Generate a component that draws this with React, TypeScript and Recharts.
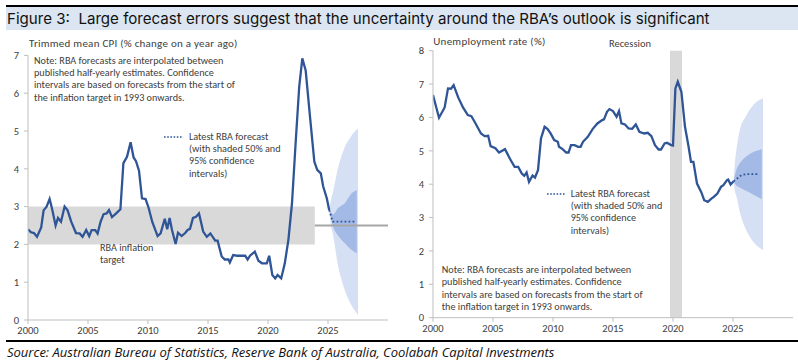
import React from 'react';
import { ComposedChart, Line, Area, XAxis, YAxis, ReferenceArea, ReferenceLine } from 'recharts';

// x = decimal year, y = % value
const cpiActual: [number, number][] = [
    [2000.0, 2.4], [2000.25, 2.32], [2000.5, 2.3], [2000.75, 2.2], [2001.1, 2.45], [2001.3, 2.9],
    [2001.55, 3.0], [2001.8, 3.2], [2002.0, 2.95], [2002.3, 2.5], [2002.5, 2.7], [2002.75, 2.6],
    [2003.05, 3.0], [2003.3, 2.9], [2003.6, 2.6], [2004.0, 2.3], [2004.3, 2.29], [2004.55, 2.2],
    [2004.85, 2.38], [2005.1, 2.22], [2005.3, 2.38], [2005.6, 2.38], [2005.8, 2.29], [2006.05, 2.6],
    [2006.3, 2.8], [2006.55, 2.82], [2006.75, 2.91], [2007.0, 2.72], [2007.35, 2.82], [2007.7, 2.93],
    [2007.95, 4.15], [2008.25, 4.32], [2008.55, 4.7], [2008.8, 4.3], [2009.0, 4.2], [2009.25, 3.95],
    [2009.5, 3.22], [2009.8, 3.2], [2010.05, 2.97], [2010.35, 2.6], [2010.8, 2.22], [2011.05, 2.29],
    [2011.4, 2.68], [2011.6, 2.4], [2011.8, 2.7], [2012.0, 2.38], [2012.3, 2.01], [2012.5, 2.31],
    [2012.8, 2.22], [2013.1, 2.3], [2013.3, 2.38], [2013.5, 2.41], [2013.75, 2.7], [2014.0, 2.73],
    [2014.25, 2.82], [2014.6, 2.34], [2014.9, 2.2], [2015.2, 2.29], [2015.6, 2.1], [2015.8, 2.1],
    [2016.14, 1.68], [2016.4, 1.6], [2016.7, 1.6], [2016.82, 1.52], [2017.1, 1.72], [2017.4, 1.7],
    [2017.8, 1.7], [2018.1, 1.7], [2018.3, 1.6], [2018.5, 1.7], [2018.9, 1.81], [2019.2, 1.57],
    [2019.5, 1.5], [2019.9, 1.5], [2020.1, 1.7], [2020.36, 1.19], [2020.6, 1.1], [2020.8, 1.19],
    [2021.1, 1.1], [2021.4, 1.5], [2021.7, 2.12], [2022.0, 3.09], [2022.3, 4.67], [2022.6, 6.17],
    [2022.86, 6.92], [2023.14, 6.6], [2023.5, 5.38], [2023.86, 4.19], [2024.1, 3.97], [2024.4, 3.88],
    [2024.6, 3.53], [2024.9, 3.22], [2025.1, 2.91],
];
const cpiForecast: [number, number][] = [[2025.1, 2.91], [2025.4, 2.6], [2027.25, 2.6]];
// [x, low, high]
const cpiBand95: [number, number, number][] = [
    [2025.1, 2.91, 2.91], [2025.2, 2.6, 3.1], [2025.45, 2.2, 3.44], [2025.8, 1.5, 3.97],
    [2026.3, 0.88, 4.5], [2026.9, 0.42, 4.85], [2027.5, 0.13, 5.07],
];
const cpiBand50: [number, number, number][] = [
    [2025.1, 2.91, 2.91], [2025.45, 2.45, 2.8], [2025.8, 2.25, 2.95], [2026.4, 2.03, 3.09],
    [2026.97, 1.85, 3.35], [2027.4, 1.76, 3.44],
];
const targetBand = { from: 2000, to: 2023.9, low: 2, high: 3, mid: 2.5 };

const unempActual: [number, number][] = [
    [2000.0, 6.67], [2000.5, 5.99], [2000.97, 6.3], [2001.25, 6.87], [2001.5, 6.86], [2001.72, 6.97],
    [2002.1, 6.6], [2002.5, 6.3], [2002.9, 6.07], [2003.2, 6.04], [2003.5, 5.85], [2004.0, 5.52],
    [2004.3, 5.44], [2004.6, 5.45], [2004.8, 5.14], [2005.2, 5.08], [2005.5, 4.95], [2006.0, 5.05],
    [2006.4, 4.77], [2006.8, 4.52], [2007.1, 4.52], [2007.4, 4.32], [2007.6, 4.25], [2007.8, 4.35],
    [2008.0, 4.07], [2008.3, 4.26], [2008.5, 4.2], [2008.75, 4.42], [2009.0, 5.37], [2009.3, 5.72],
    [2009.55, 5.65], [2009.8, 5.52], [2010.1, 5.32], [2010.4, 5.27], [2010.5, 5.12], [2010.8, 5.05],
    [2011.1, 4.95], [2011.3, 4.95], [2011.5, 5.17], [2011.8, 5.17], [2012.1, 5.12], [2012.3, 5.12],
    [2012.5, 5.27], [2012.9, 5.42], [2013.3, 5.65], [2013.7, 5.82], [2014.1, 5.92], [2014.25, 5.94],
    [2014.5, 6.17], [2014.7, 6.25], [2015.0, 6.19], [2015.3, 6.02], [2015.5, 6.19], [2015.7, 5.82],
    [2016.0, 5.79], [2016.3, 5.67], [2016.6, 5.66], [2016.9, 5.79], [2017.2, 5.57], [2017.6, 5.52],
    [2017.9, 5.54], [2018.2, 5.44], [2018.5, 5.17], [2018.8, 5.04], [2019.0, 5.04], [2019.3, 5.22],
    [2019.5, 5.24], [2019.8, 5.18], [2020.0, 5.16], [2020.2, 6.87], [2020.4, 7.07], [2020.7, 6.77],
    [2021.0, 5.72], [2021.3, 5.12], [2021.5, 4.67], [2021.7, 4.67], [2022.0, 4.02], [2022.35, 3.77],
    [2022.6, 3.52], [2022.9, 3.47], [2023.2, 3.57], [2023.4, 3.62], [2023.7, 3.72], [2024.0, 3.92],
    [2024.2, 3.97], [2024.5, 4.12], [2024.6, 4.14], [2024.8, 3.99], [2025.05, 4.09],
];
const unempForecast: [number, number][] = [[2025.05, 4.09], [2025.7, 4.27], [2026.1, 4.3], [2027.15, 4.3]];
const unempBand95: [number, number, number][] = [
    [2025.05, 4.09, 4.09], [2025.15, 3.8, 4.6], [2025.3, 3.62, 5.07], [2025.55, 3.2, 5.6],
    [2026.1, 2.63, 6.05], [2026.8, 2.23, 6.42], [2027.5, 2.03, 6.57],
];
const unempBand50: [number, number, number][] = [
    [2025.05, 4.09, 4.09], [2025.3, 3.95, 4.45], [2025.55, 3.9, 4.62], [2026.25, 3.77, 4.87],
    [2027.4, 3.55, 5.05],
];
const recession = { from: 2019.75, to: 2020.75 };

const yearTicks = [2000, 2005, 2010, 2015, 2020, 2025];
const cpiTicks = [0, 1, 2, 3, 4, 5, 6, 7];
const unempTicks = [0, 1, 2, 3, 4, 5, 6, 7, 8];

const BLUE = '#2f5597';
const BAND95 = '#d6e0f4';
const BAND50 = '#a4bae6';
const AXIS = '#bfbfbf';
const TEXT = '#404040';
const FONT = "Carlito, Lato, 'Liberation Sans', sans-serif";

const pts = (rows: [number, number][]) => rows.map(([x, y]) => ({ x, y }));
const band = (rows: [number, number, number][]) => rows.map(([x, lo, hi]) => ({ x, r: [lo, hi] }));

const tickStyle = { fontSize: 10.5, fill: TEXT, fontFamily: FONT };

function Note(props: { left: number; top: number; lines: string[]; lh?: number; size?: number; spacing?: number }) {
    return (
        <div style={{ position: 'absolute', left: props.left, top: props.top, fontFamily: FONT, fontSize: props.size || 10.2,
            letterSpacing: props.spacing || 0, lineHeight: (props.lh || 12.3) + 'px', color: TEXT, whiteSpace: 'nowrap' }}>
            {props.lines.map((l, i) => <div key={i}>{l}</div>)}
        </div>
    );
}

function Dots(props: { left: number; top: number }) {
    return (
        <svg style={{ position: 'absolute', left: props.left, top: props.top - 2 }} width={18} height={4}>
            <line x1={0} y1={2} x2={18} y2={2} stroke={BLUE} strokeWidth={1.6} strokeDasharray="1.6 1.6" />
        </svg>
    );
}

const legendLines = ['Latest RBA forecast', '(with shaded 50% and', '95% confidence', 'intervals)'];
const noteLines = ['Note: RBA forecasts are interpolated between', 'published half-yearly estimates. Confidence',
    'intervals are based on forecasts from the start of', 'the inflation target in 1993 onwards.'];

function CpiChart() {
    return (
        <div style={{ position: 'absolute', left: 0, top: 0 }}>
            <ComposedChart width={398} height={340} margin={{ top: 55.4, right: 10, bottom: 0, left: 0 }}>
                <XAxis type="number" dataKey="x" domain={[2000, 2030]} ticks={yearTicks} allowDataOverflow
                    tick={tickStyle} tickSize={4} tickMargin={3} height={20} stroke={AXIS} />
                <YAxis type="number" domain={[0, 7]} ticks={cpiTicks} allowDataOverflow tick={tickStyle}
                    tickSize={4} tickMargin={5} width={28} stroke={AXIS} />
                <ReferenceArea x1={targetBand.from} x2={targetBand.to} y1={targetBand.low} y2={targetBand.high}
                    fill="#d9d9d9" fillOpacity={1} stroke="none" />
                <ReferenceLine segment={[{ x: targetBand.to, y: targetBand.mid }, { x: 2030, y: targetBand.mid }]}
                    stroke="#a6a6a6" strokeWidth={1.8} />
                <Area data={band(cpiBand95)} dataKey="r" type="monotone" fill={BAND95} fillOpacity={1}
                    stroke="none" isAnimationActive={false} />
                <Area data={band(cpiBand50)} dataKey="r" type="monotone" fill={BAND50} fillOpacity={1}
                    stroke="none" isAnimationActive={false} />
                <Line data={pts(cpiActual)} dataKey="y" stroke={BLUE} strokeWidth={2.3} dot={false}
                    isAnimationActive={false} />
                <Line data={pts(cpiForecast)} dataKey="y" stroke={BLUE} strokeWidth={1.8} strokeDasharray="1.8 2.2"
                    dot={false} isAnimationActive={false} />
            </ComposedChart>
            <Note left={29} top={38} lines={['Trimmed mean CPI (% change on a year ago)']} lh={12} size={11} spacing={0.25} />
            <Note left={34} top={54.8} lines={noteLines} />
            <Dots left={164} top={137} />
            <Note left={189} top={130.8} lines={legendLines} />
            <Note left={100} top={241.8} lines={['RBA inflation', 'target']} />
        </div>
    );
}

function UnempChart() {
    return (
        <div style={{ position: 'absolute', left: 405.3, top: 0 }}>
            <ComposedChart width={392.7} height={337.7} margin={{ top: 50.7, right: 4.7, bottom: 0, left: 0 }}>
                <XAxis type="number" dataKey="x" domain={[2000, 2030]} ticks={yearTicks} allowDataOverflow
                    tick={tickStyle} tickSize={4} tickMargin={3} height={20} stroke={AXIS} />
                <YAxis type="number" domain={[0, 8]} ticks={unempTicks} allowDataOverflow tick={tickStyle}
                    tickSize={4} tickMargin={5} width={28} stroke={AXIS} />
                <ReferenceArea x1={recession.from} x2={recession.to} y1={0} y2={8}
                    fill="#d9d9d9" fillOpacity={1} stroke="none" />
                <Area data={band(unempBand95)} dataKey="r" type="monotone" fill={BAND95} fillOpacity={1}
                    stroke="none" isAnimationActive={false} />
                <Area data={band(unempBand50)} dataKey="r" type="monotone" fill={BAND50} fillOpacity={1}
                    stroke="none" isAnimationActive={false} />
                <Line data={pts(unempActual)} dataKey="y" stroke={BLUE} strokeWidth={2.3} dot={false}
                    isAnimationActive={false} />
                <Line data={pts(unempForecast)} dataKey="y" stroke={BLUE} strokeWidth={1.8} strokeDasharray="1.8 2.2"
                    dot={false} isAnimationActive={false} />
            </ComposedChart>
            <Note left={28} top={36} lines={['Unemployment rate (%)']} lh={12} size={11} spacing={0.25} />
            <div style={{ position: 'absolute', left: 224.7, top: 38, width: 100, marginLeft: -50, textAlign: 'center',
                fontFamily: FONT, fontSize: 10.5, lineHeight: '12px', color: TEXT }}>Recession</div>
            <Dots left={141.4} top={194} />
            <Note left={165.4} top={187.8} lines={legendLines} />
            <Note left={36.4} top={263.7} lines={noteLines} lh={12.5} />
        </div>
    );
}

export default function App() {
    return (
        <div style={{ position: 'absolute', left: 0, top: 0, width: 798, height: 361, background: '#fff', overflow: 'hidden' }}>
            <div style={{ position: 'absolute', left: 6, top: 5, width: 792, height: 2, background: '#000' }} />
            <div style={{ position: 'absolute', left: 6, top: 7, width: 792, height: 23, background: '#dce6f2' }} />
            <div style={{ position: 'absolute', left: 7, top: 7.5, fontFamily: "Inter, 'Open Sans', sans-serif", fontSize: 15.1,
                lineHeight: '21px', color: '#111', whiteSpace: 'nowrap' }}>
                Figure 3:&nbsp; Large forecast errors suggest that the uncertainty around the RBA’s outlook is significant
            </div>
            <CpiChart />
            <UnempChart />
            <div style={{ position: 'absolute', left: 6, top: 340, width: 792, height: 2, background: '#000' }} />
            <div style={{ position: 'absolute', left: 7, top: 344, fontFamily: "'Open Sans', sans-serif", fontStyle: 'italic',
                fontSize: 13, lineHeight: '16px', color: '#111', whiteSpace: 'nowrap' }}>
                Source: Australian Bureau of Statistics, Reserve Bank of Australia, Coolabah Capital Investments
            </div>
        </div>
    );
}
